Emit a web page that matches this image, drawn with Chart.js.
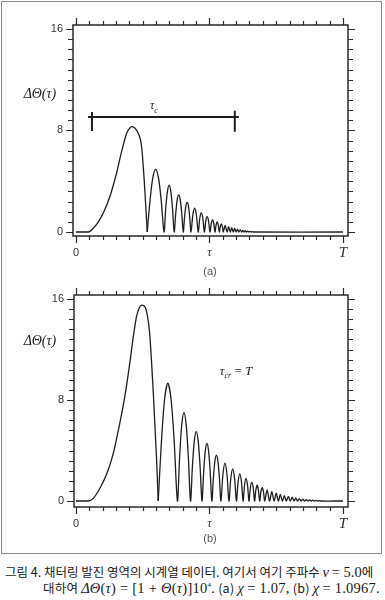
<!DOCTYPE html>
<html><head><meta charset="utf-8">
<script src="https://cdn.jsdelivr.net/npm/chart.js@4/dist/chart.umd.min.js"></script>
<style>
html,body{margin:0;padding:0;background:#fff;}
body{width:385px;height:600px;position:relative;overflow:hidden;font-family:"Liberation Sans",Arial,sans-serif;}
.frame{position:absolute;left:1px;top:1px;width:379px;height:551px;border:1px solid #8a8a8a;}
canvas{position:absolute;left:0;}
.t{position:absolute;transform:translate(-50%,-50%);white-space:nowrap;color:#222;line-height:1;}
.m{font-family:"Liberation Serif","DejaVu Serif",serif;font-style:italic;}
.cap{position:absolute;white-space:nowrap;font-family:"Noto Sans CJK KR",sans-serif;font-size:12.5px;color:#1a1a1a;line-height:1;}
.sr{font-family:"Liberation Serif",serif;font-size:14.5px;}
.si{font-family:"Liberation Serif",serif;font-style:italic;font-size:14.5px;}
</style></head>
<body>
<div class="frame"></div>
<canvas id="ca" width="385" height="280" style="top:0"></canvas>
<canvas id="cb" width="385" height="270" style="top:280px"></canvas>

<div class="t m" style="left:40px;top:94px;font-size:14px">ΔΘ(τ)</div>
<div class="t m" style="left:154px;top:107px;font-size:12px">τ<sub style="font-size:8px">c</sub></div>
<div class="t" style="left:210px;top:271px;font-size:11px;color:#555">(a)</div>

<div class="t m" style="left:40px;top:341px;font-size:14px">ΔΘ(τ)</div>
<div class="t m" style="left:236px;top:372px;font-size:13px">τ<sub style="font-size:8px">cr</sub> <span style="font-style:normal">=</span> T</div>
<div class="t" style="left:210px;top:538px;font-size:11px;color:#555">(b)</div>

<div class="cap" id="cap1" style="left:5px;top:565px">그림 4. 채터링 발진 영역의 시계열 데이터. 여기서 여기 주파수 <span class="si">ν</span> <span class="sr">= 5.0</span>에</div>
<div class="cap" id="cap2" style="right:5px;top:581px">대하여 <span class="si">ΔΘ</span><span class="sr">(</span><span class="si">τ</span><span class="sr">) = [1 + </span><span class="si">Θ</span><span class="sr">(</span><span class="si">τ</span><span class="sr">)]10<sup style="font-size:7px">4</sup>.</span> (a) <span class="si">χ</span> <span class="sr">= 1.07,</span> (b) <span class="si">χ</span> <span class="sr">= 1.0967.</span></div>

<script>
// ---- panel (a) data (x as fraction of T) ----
const aHumpX = [0, 0.046, 0.065, 0.084, 0.102, 0.127, 0.152, 0.171, 0.190, 0.200, 0.209, 0.220, 0.233, 0.246, 0.258, 0.267];
const aHumpY = [0, 0, 0.29, 0.80, 1.47, 2.78, 4.63, 6.33, 7.78, 8.15, 8.30, 8.20, 7.78, 6.72, 3.31, 0];
const aOscX = [
0.267,0.2775,0.288,0.2985,0.309,0.3195,
0.330,0.3363,0.3427,0.349,0.3553,0.3617,
0.368,0.3737,0.3793,0.385,0.3907,0.3963,
0.402,0.4068,0.4117,0.4165,0.4213,0.4262,
0.431,0.4378,0.4445,0.4513,
0.458,0.4638,0.4695,0.4753,
0.481,0.4863,0.4915,0.4968,
0.502,0.5068,0.5115,0.5163,
0.521,0.525,0.529,0.533,
0.537,0.5408,0.5445,0.5483,
0.552,0.559,0.566,0.572,0.578,0.5835,0.589,0.5945,0.600,0.605,
0.610,0.6155,0.621,0.6255,0.630,0.6345,0.639,0.6435,0.648,0.6525,
0.657,0.661,0.665,1.0];
const aOscY = [
0,2.47,4.28,4.94,4.28,2.47,
0,1.85,3.20,3.70,3.20,1.85,
0,1.46,2.53,2.92,2.53,1.46,
0,1.17,2.03,2.34,2.03,1.17,
0,1.32,1.87,1.32,
0,1.07,1.52,1.07,
0,0.86,1.21,0.86,
0,0.67,0.95,0.67,
0,0.57,0.81,0.57,
0,0.45,0.63,0.45,
0,0.52,0,0.43,0,0.35,0,0.28,0,0.22,
0,0.17,0,0.13,0,0.10,0,0.07,0,0.05,
0,0.03,0,0];
// tau_c bar
const tauBarX = [0.045, 0.61];
const tauBarY = [9.06, 9.06];
const tauCapLX = [0.060, 0.060];
const tauCapLY = [9.45, 7.95];
const tauCapRX = [0.595, 0.595];
const tauCapRY = [9.55, 7.90];

// ---- panel (b) data ----
const bHumpX = [0, 0.046, 0.065, 0.090, 0.115, 0.140, 0.165, 0.184, 0.202, 0.215, 0.227, 0.237, 0.246, 0.255, 0.262, 0.275, 0.290, 0.302, 0.308];
const bHumpY = [0, 0, 0.21, 1.03, 2.14, 3.80, 6.26, 8.40, 11.0, 13.07, 14.65, 15.3, 15.52, 15.45, 15.2, 13.5, 8.4, 3.25, 0];
const bOscX = [
0.308,0.320,0.332,0.344,0.356,0.368,
0.380,0.3882,0.3963,0.4045,0.4127,0.4208,
0.429,0.4362,0.4433,0.4505,0.4577,0.4648,
0.472,0.4782,0.4843,0.4905,0.4967,0.5028,
0.509,0.5147,0.5203,0.526,0.5317,0.5373,
0.543,0.5505,0.558,0.5655,
0.573,0.580,0.587,0.594,
0.601,0.6073,0.6135,0.6198,
0.626,0.6315,0.637,0.6425,
0.648,0.6533,0.6585,0.6638,
0.669,0.6738,0.6785,0.6833,
0.688,0.6928,0.6975,0.7023,
0.707,0.716,0.725,0.7335,0.742,0.750,0.758,0.7655,0.773,0.7805,
0.788,0.7955,0.803,0.810,0.817,0.8235,0.830,0.8365,0.843,0.8495,
0.856,0.8625,0.869,0.875,0.881,0.887,0.893,0.899,0.905,0.9105,
0.916,1.0];
const bOscY = [
0,4.67,8.08,9.33,8.08,4.67,
0,3.50,6.06,7.00,6.06,3.50,
0,2.75,4.76,5.50,4.76,2.75,
0,2.29,3.96,4.57,3.96,2.29,
0,1.82,3.15,3.64,3.15,1.82,
0,2.12,3.00,2.12,
0,1.80,2.55,1.80,
0,1.52,2.15,1.52,
0,1.27,1.80,1.27,
0,1.06,1.50,1.06,
0,0.88,1.25,0.88,
0,0.74,1.05,0.74,
0,0.88,0,0.74,0,0.62,0,0.52,0,0.43,
0,0.36,0,0.30,0,0.24,0,0.19,0,0.15,
0,0.11,0,0.08,0,0.06,0,0.04,0,0.02,
0,0];

// ---- ticks ----
const xTickVals = [0,0.05,0.1,0.15,0.2,0.25,0.3,0.35,0.4,0.45,0.5,0.55,0.6,0.65,0.7,0.75,0.8,0.85,0.9,0.95,1];
const xMajorVals = [0,0.5,1];
const xLabels = ['0','τ','T'];
const yTickVals = [0,0.8,1.6,2.4,3.2,4,4.8,5.6,6.4,7.2,8,8.8,9.6,10.4,11.2,12,12.8,13.6,14.4,15.2,16];
const yMajorVals = [0,8,16];
const yLabels = ['0','8','16'];

// fit caption lines to the reference widths (small letter-spacing adjustment)
function fitLine(id, target) {
  const el = document.getElementById(id);
  const w = el.getBoundingClientRect().width;
  const n = el.textContent.length;
  let ls = (target - w) / n;
  ls = Math.max(-0.6, Math.min(0.6, ls));
  el.style.letterSpacing = ls.toFixed(2) + 'px';
}
fitLine('cap1', 368);
fitLine('cap2', 337);

const pts = (xs, ys) => xs.map((x, i) => ({x, y: ys[i]}));

const framePlugin = {
  id: 'framePlugin',
  afterDraw(chart) {
    const {ctx, chartArea: a, scales: {x, y}} = chart;
    ctx.save();
    ctx.strokeStyle = '#2a2a2a';
    ctx.lineWidth = 1.5;
    ctx.strokeRect(a.left, a.top, a.right - a.left, a.bottom - a.top);
    ctx.lineWidth = 1.2;
    ctx.beginPath();
    xTickVals.forEach(v => {
      const px = Math.round(x.getPixelForValue(v)) + 0.5;
      const L = xMajorVals.includes(v) ? 7 : 4;
      ctx.moveTo(px, a.bottom); ctx.lineTo(px, a.bottom + L);
      ctx.moveTo(px, a.top); ctx.lineTo(px, a.top - L);
    });
    yTickVals.forEach(v => {
      const py = Math.round(y.getPixelForValue(v)) + 0.5;
      const L = yMajorVals.includes(v) ? 7 : 5;
      ctx.moveTo(a.left, py); ctx.lineTo(a.left - L, py);
      ctx.moveTo(a.right, py); ctx.lineTo(a.right + L, py);
    });
    ctx.stroke();
    ctx.fillStyle = '#333';
    ctx.textBaseline = 'middle';
    ctx.textAlign = 'right';
    ctx.font = '11px "Liberation Sans", Arial, sans-serif';
    yMajorVals.forEach((v, i) => ctx.fillText(yLabels[i], a.left - 10, y.getPixelForValue(v)));
    ctx.textAlign = 'center';
    xMajorVals.forEach((v, i) => {
      const lab = xLabels[i];
      if (lab === '0') ctx.font = '11px "Liberation Sans", Arial, sans-serif';
      else if (lab === 'T') ctx.font = 'italic 15px "Liberation Serif", serif';
      else ctx.font = 'italic 12px "Liberation Serif", serif';
      ctx.fillText(lab, x.getPixelForValue(v), a.bottom + 17);
    });
    ctx.restore();
  }
};

function makeChart(id, hx, hy, ox, oy, extra, pad, xr, yr) {
  const line = {borderColor: '#1e1e1e', borderWidth: 1.3, pointRadius: 0, fill: false};
  const datasets = [
    Object.assign({data: pts(hx, hy), cubicInterpolationMode: 'monotone'}, line),
    Object.assign({data: pts(ox, oy), tension: 0.3}, line)
  ].concat(extra);
  return new Chart(document.getElementById(id), {
    type: 'line',
    data: {datasets},
    options: {
      responsive: false, animation: false, devicePixelRatio: 1,
      layout: {padding: pad},
      plugins: {legend: {display: false}, tooltip: {enabled: false}},
      scales: {
        x: {type: 'linear', min: xr[0], max: xr[1], display: false},
        y: {type: 'linear', min: yr[0], max: yr[1], display: false}
      }
    },
    plugins: [framePlugin]
  });
}

const barStyle = {borderColor: '#1e1e1e', borderWidth: 2, pointRadius: 0, tension: 0};
makeChart('ca', aHumpX, aHumpY, aOscX, aOscY, [
  Object.assign({data: pts(tauBarX, tauBarY)}, barStyle),
  Object.assign({data: pts(tauCapLX, tauCapLY)}, barStyle),
  Object.assign({data: pts(tauCapRX, tauCapRY)}, barStyle)
], {left: 73, right: 37, top: 25, bottom: 44}, [-0.011, 1.019], [-0.315, 16.31]);

makeChart('cb', bHumpX, bHumpY, bOscX, bOscY, [],
  {left: 74, right: 37, top: 15, bottom: 43}, [-0.0075, 1.019], [-0.475, 16.32]);
</script>
</body></html>
